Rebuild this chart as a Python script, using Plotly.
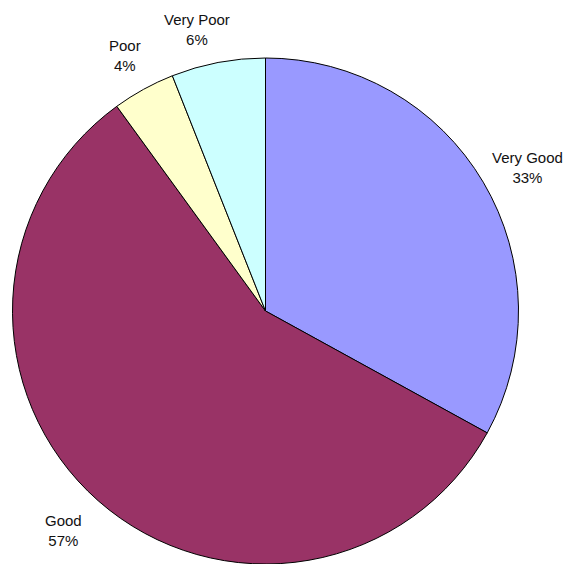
import plotly.graph_objects as go

labels = ["Very Good", "Good", "Poor", "Very Poor"]
values = [33, 57, 4, 6]
colors = ["#9999FF", "#993366", "#FFFFCC", "#CCFFFF"]

# page body has an 8px margin, so the figure is drawn 8px in from the corner
PAD = 8
W, H = 572 - PAD, 564 - PAD
cx, cy, R = 265.5 - PAD, 311 - PAD, 253  # pie centre and radius, figure pixels

# where Excel put the data labels (page pixels, text centre)
label_pos = [(527, 167), (63, 530), (124.5, 55), (196.5, 30)]

fig = go.Figure(go.Pie(
    labels=labels,
    values=values,
    sort=False,
    direction="clockwise",
    rotation=0,
    marker=dict(colors=colors, line=dict(color="#000000", width=1)),
    textinfo="none",
    showlegend=False,
    hoverinfo="label+percent",
    domain=dict(x=[(cx - R) / W, (cx + R) / W], y=[1 - (cy + R) / H, 1 - (cy - R) / H]),
))

total = sum(values)
for lab, v, (px, py) in zip(labels, values, label_pos):
    fig.add_annotation(
        x=(px - PAD) / W, y=1 - (py - PAD) / H, xref="paper", yref="paper",
        text=f"{lab}<br>{round(v / total * 100)}%",
        showarrow=False, xanchor="center", yanchor="middle",
        font=dict(family="Liberation Sans, Arial, sans-serif", size=15, color="#111111"),
    )

fig.update_layout(
    width=W, height=H,
    margin=dict(l=0, r=0, t=0, b=0),
    paper_bgcolor="white",
    plot_bgcolor="white",
)

fig.write_html("out.html")
